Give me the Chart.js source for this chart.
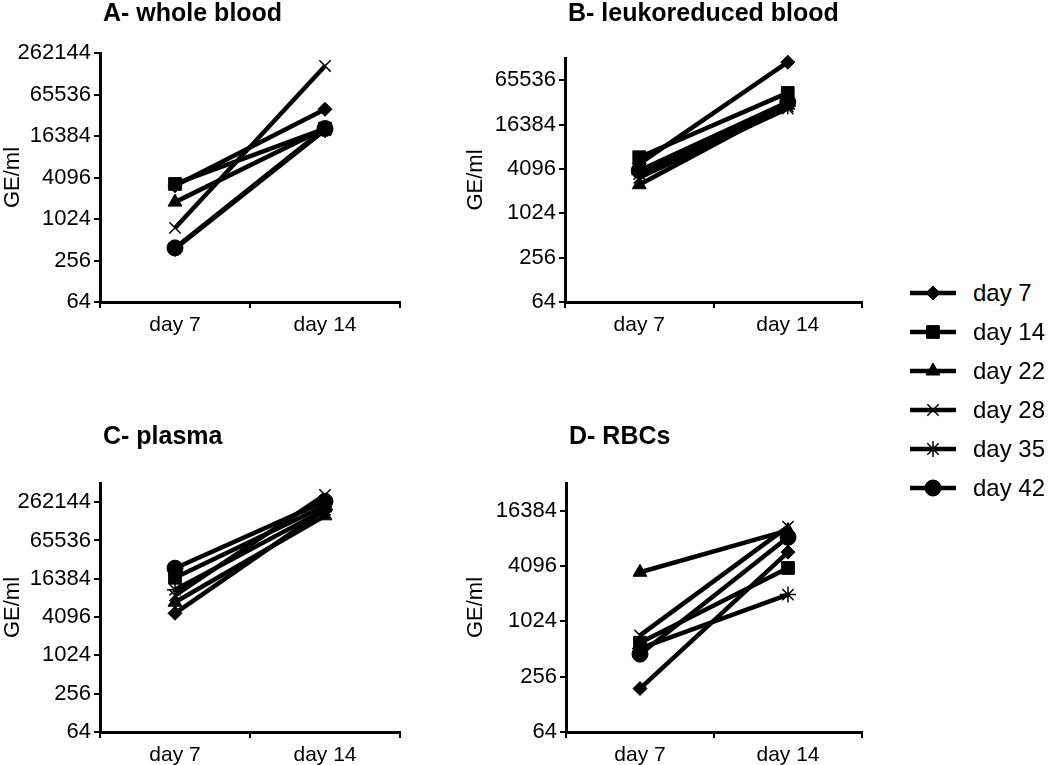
<!DOCTYPE html>
<html>
<head>
<meta charset="utf-8">
<title>GE/ml by storage day</title>
<script src="https://cdn.jsdelivr.net/npm/chart.js@4.4.1/dist/chart.umd.min.js"></script>
<style>
  body { margin: 0; background: #fff; width: 1050px; height: 765px; overflow: hidden; position: relative;
         font-family: "Liberation Sans", Arial, sans-serif; }
  canvas.panel { position: absolute; }
  .item { position: absolute; left: 906px; height: 30px; display: flex; align-items: center; font-size: 24px; color: #000; }
  .item canvas { margin-right: 15px; }
</style>
</head>
<body>
<canvas id="chartA" class="panel"></canvas>
<canvas id="chartB" class="panel"></canvas>
<canvas id="chartC" class="panel"></canvas>
<canvas id="chartD" class="panel"></canvas>
<div id="legend"></div>

<script>
// x categories and series
const categories = ['day 7', 'day 14'];
const seriesNames = ['day 7', 'day 14', 'day 22', 'day 28', 'day 35', 'day 42'];

// values per panel: one [day 7, day 14] pair per series, GE/ml
const wholeBlood  = [[3100, 40000], [3300, 21000], [1800, 21000], [760, 170000], [380, 20000], [390, 21000]];
const leukoBlood  = [[4800, 115000], [5900, 44000], [2500, 30000], [3100, 27000], [3500, 29000], [3900, 33000]];
const plasma      = [[4700, 200000], [17000, 230000], [7000, 160000], [9000, 340000], [11000, 200000], [24000, 270000]];
const rbcs        = [[190, 5800], [600, 3900], [3500, 10000], [720, 11000], [520, 2000], [450, 8400]];

// y tick labels
const ticksA = [64, 256, 1024, 4096, 16384, 65536, 262144];
const ticksB = [64, 256, 1024, 4096, 16384, 65536];
const ticksC = [64, 256, 1024, 4096, 16384, 65536, 262144];
const ticksD = [64, 256, 1024, 4096, 16384];

// marker per series
const markers = ['rectRot', 'rect', 'triangle', 'crossRot', 'star', 'circle'];
const markerSize = { rectRot: 7, rect: 9, triangle: 8, crossRot: 8, star: 8, circle: 8 };
const thinMarker = { crossRot: true, star: true };

const FONT = '"Liberation Sans", Arial, sans-serif';
Chart.defaults.font.family = FONT;
Chart.defaults.color = '#000';

//Panel title drawn just right of the y axis
const panelTitle = {
  id: 'panelTitle',
  afterDraw(chart, args, opts) {
    const ctx = chart.ctx;
    ctx.save();
    ctx.font = 'bold 25px ' + FONT;
    ctx.fillStyle = '#000';
    ctx.textBaseline = 'middle';
    ctx.fillText(opts.text, chart.chartArea.left + 3, opts.y);
    ctx.restore();
  }
};

// box = canvas [left, top, width, height], area = plot [left, top, right, bottom] in page px
const panels = [
  { id: 'chartA', title: 'A- whole blood', titleY: 14, values: wholeBlood, ticks: ticksA, max: 262144,
    box: [0, 0, 420, 345], area: [100, 53, 400, 302] },
  { id: 'chartB', title: 'B- leukoreduced blood', titleY: 14, values: leukoBlood, ticks: ticksB, max: 131072,
    box: [463, 0, 420, 345], area: [565, 58, 862, 302] },
  { id: 'chartC', title: 'C- plasma', titleY: 17, values: plasma, ticks: ticksC, max: 524288,
    box: [0, 420, 420, 345], area: [100, 483, 400, 732] },
  { id: 'chartD', title: 'D- RBCs', titleY: 17, values: rbcs, ticks: ticksD, max: 32768,
    box: [463, 420, 420, 345], area: [566, 483, 862, 732] }
];

function createPanel(p) {
  const [bx, by, bw, bh] = p.box;
  const [L, T, R, B] = p.area;
  const canvas = document.getElementById(p.id);
  canvas.width = bw;
  canvas.height = bh;
  canvas.style.left = bx + 'px';
  canvas.style.top = by + 'px';

  const datasets = seriesNames.map((name, i) => ({
    label: name,
    data: p.values[i],
    borderColor: '#000',
    backgroundColor: '#000',
    borderWidth: 4.5,
    tension: 0,
    pointStyle: markers[i],
    pointRadius: markerSize[markers[i]],
    pointBorderWidth: thinMarker[markers[i]] ? 1.5 : 1,
    pointBackgroundColor: '#000',
    pointBorderColor: '#000',
    clip: false
  }));

  new Chart(canvas.getContext('2d'), {
    type: 'line',
    data: { labels: categories, datasets: datasets },
    options: {
      responsive: false,
      animation: false,
      devicePixelRatio: 1,
      layout: { padding: { left: 0, top: T - by, right: bx + bw - R, bottom: 0 } },
      plugins: {
        legend: { display: false },
        tooltip: { enabled: false },
        panelTitle: { text: p.title, y: p.titleY }
      },
      scales: {
        x: {
          type: 'category',
          offset: true,
          afterFit: s => { s.height = by + bh - B; },
          grid: { offset: true, drawOnChartArea: false, tickLength: 6, color: '#000', lineWidth: 2 },
          border: { display: true, color: '#000', width: 3 },
          ticks: { font: { size: 21 }, padding: 5, color: '#000' }
        },
        y: {
          type: 'logarithmic',
          min: 64,
          max: p.max,
          afterFit: s => { s.width = L - bx; },
          afterBuildTicks: s => { s.ticks = p.ticks.map(v => ({ value: v })); },
          grid: { drawOnChartArea: false, tickLength: 6, color: '#000', lineWidth: 2 },
          border: { display: true, color: '#000', width: 3 },
          ticks: { font: { size: 22 }, padding: 3, color: '#000', autoSkip: false, callback: v => String(v) },
          title: { display: true, text: 'GE/ml', font: { size: 22 }, padding: 0, color: '#000' }
        }
      }
    },
    plugins: [panelTitle]
  });
}

//Legend on the right: line with the series marker, then the name
function createLegend() {
  const host = document.getElementById('legend');
  seriesNames.forEach((name, i) => {
    const row = document.createElement('div');
    row.className = 'item';
    row.style.top = (278 + 39 * i) + 'px';
    const c = document.createElement('canvas');
    c.width = 52; c.height = 30;
    const ctx = c.getContext('2d');
    ctx.strokeStyle = '#000';
    ctx.fillStyle = '#000';
    ctx.lineWidth = 4.5;
    ctx.beginPath();
    ctx.moveTo(4, 15); ctx.lineTo(50, 15);
    ctx.stroke();
    const style = markers[i];
    ctx.lineWidth = thinMarker[style] ? 1.5 : 1;
    if (Chart.helpers && Chart.helpers.drawPoint) {
      Chart.helpers.drawPoint(ctx, { pointStyle: style, rotation: 0, radius: markerSize[style], borderWidth: ctx.lineWidth }, 27, 15);
    }
    row.appendChild(c);
    const span = document.createElement('span');
    span.textContent = name;
    row.appendChild(span);
    host.appendChild(row);
  });
}

window.addEventListener('DOMContentLoaded', () => {
  panels.forEach(createPanel);
  createLegend();
});
</script>
</body>
</html>
